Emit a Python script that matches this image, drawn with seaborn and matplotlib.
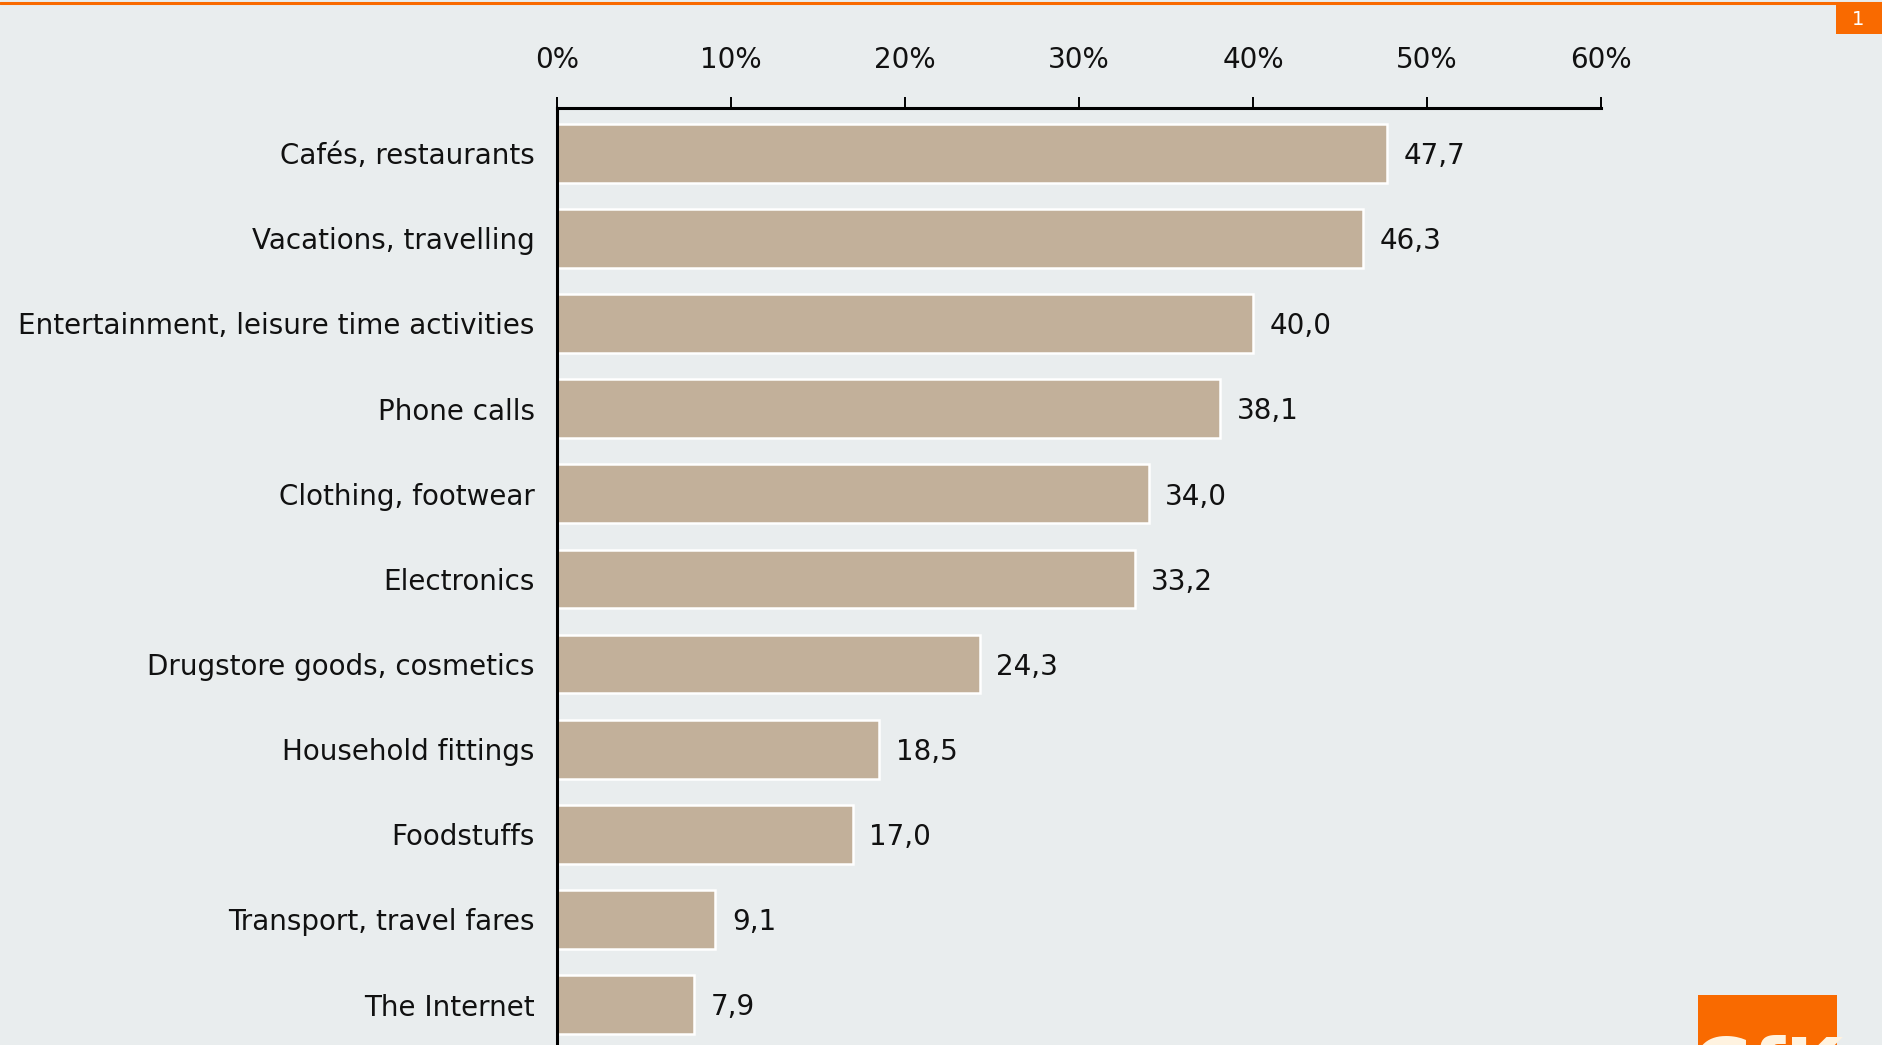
import matplotlib
matplotlib.use("Agg")
import matplotlib.pyplot as plt
import seaborn as sns
import pandas as pd
from matplotlib.patches import Rectangle

categories = ["Cafés, restaurants", "Vacations, travelling",
              "Entertainment, leisure time activities", "Phone calls",
              "Clothing, footwear", "Electronics", "Drugstore goods, cosmetics",
              "Household fittings", "Foodstuffs", "Transport, travel fares",
              "The Internet"]
values = [47.7, 46.3, 40.0, 38.1, 34.0, 33.2, 24.3, 18.5, 17.0, 9.1, 7.9]
x_ticks = [0, 10, 20, 30, 40, 50, 60]
x_tick_labels = ["0%", "10%", "20%", "30%", "40%", "50%", "60%"]
page_number = "1"

BG = "#E9EDEE"
BAR = "#C2B09A"
ORANGE = "#F96A00"

sns.set_theme(style="white")
plt.rcParams["font.family"] = ["Liberation Sans Narrow", "DejaVu Sans"]

W, H = 1883, 1045
fig = plt.figure(figsize=(W / 100, H / 100), dpi=100, facecolor=BG)

top_px = 108
n = len(categories)
step = 85.15
extra = 0.03
ax_h = (n + extra) * step
ax = fig.add_axes([557 / W, (H - top_px - ax_h) / H, 1044 / W, ax_h / H])
ax.set_facecolor(BG)

df = pd.DataFrame({"category": categories, "value": values})
sns.barplot(data=df, x="value", y="category", color=BAR, saturation=1,
            edgecolor="white", linewidth=1.8, width=0.69, ax=ax, orient="h")

ax.set_xlim(0, 60)
ax.set_ylim(n - 0.5, -0.5 - extra)
ax.set_xlabel("")
ax.set_ylabel("")

ax.xaxis.tick_top()
ax.set_xticks(x_ticks)
ax.set_xticklabels(x_tick_labels)
ax.tick_params(axis="x", which="major", direction="out", length=8, width=1.4,
               color="black", labelsize=20, pad=16.5, labelcolor="#111111")

ax.set_yticks(range(n))
ax.set_yticklabels(categories)
ax.tick_params(axis="y", which="major", length=0, labelsize=20, pad=16,
               labelcolor="#111111")
ax.set_yticks([i - 0.5 for i in range(n + 1)], minor=True)
ax.tick_params(axis="y", which="minor", direction="out", length=8, width=1.4,
               color="black")

for s in ["right", "bottom"]:
    ax.spines[s].set_visible(False)
for s in ["top", "left"]:
    ax.spines[s].set_visible(True)
    ax.spines[s].set_color("black")
    ax.spines[s].set_linewidth(2.2)

for cont in ax.containers:
    anns = ax.bar_label(cont, labels=[f"{v:.1f}".replace(".", ",") for v in values],
                        padding=12, fontsize=20, color="#111111")
    for a in anns:
        a.xyann = (12, -2)

# decorative header line and page badge
fig.add_artist(plt.Line2D([0, 1], [1 - 3 / H, 1 - 3 / H], color=ORANGE, lw=2.2,
                          transform=fig.transFigure))
fig.add_artist(Rectangle((1836 / W, 1 - 34 / H), 47 / W, 29 / H,
                         transform=fig.transFigure, color=ORANGE, lw=0))
fig.text(1858 / W, 1 - 19.5 / H, page_number, color="white", fontsize=14,
         ha="center", va="center")

# logo block at lower right (cut by the page edge, as in the original)
fig.add_artist(Rectangle((1698 / W, 0), 139 / W, 50 / H,
                         transform=fig.transFigure, color=ORANGE, lw=0))
fig.text(1767 / W, 1 - 1035 / H, "GfK", color="#FFF3E0", fontsize=54,
         fontweight="bold", ha="center", va="top", family="DejaVu Sans")

fig.savefig("out.png", dpi=100, facecolor=BG)
